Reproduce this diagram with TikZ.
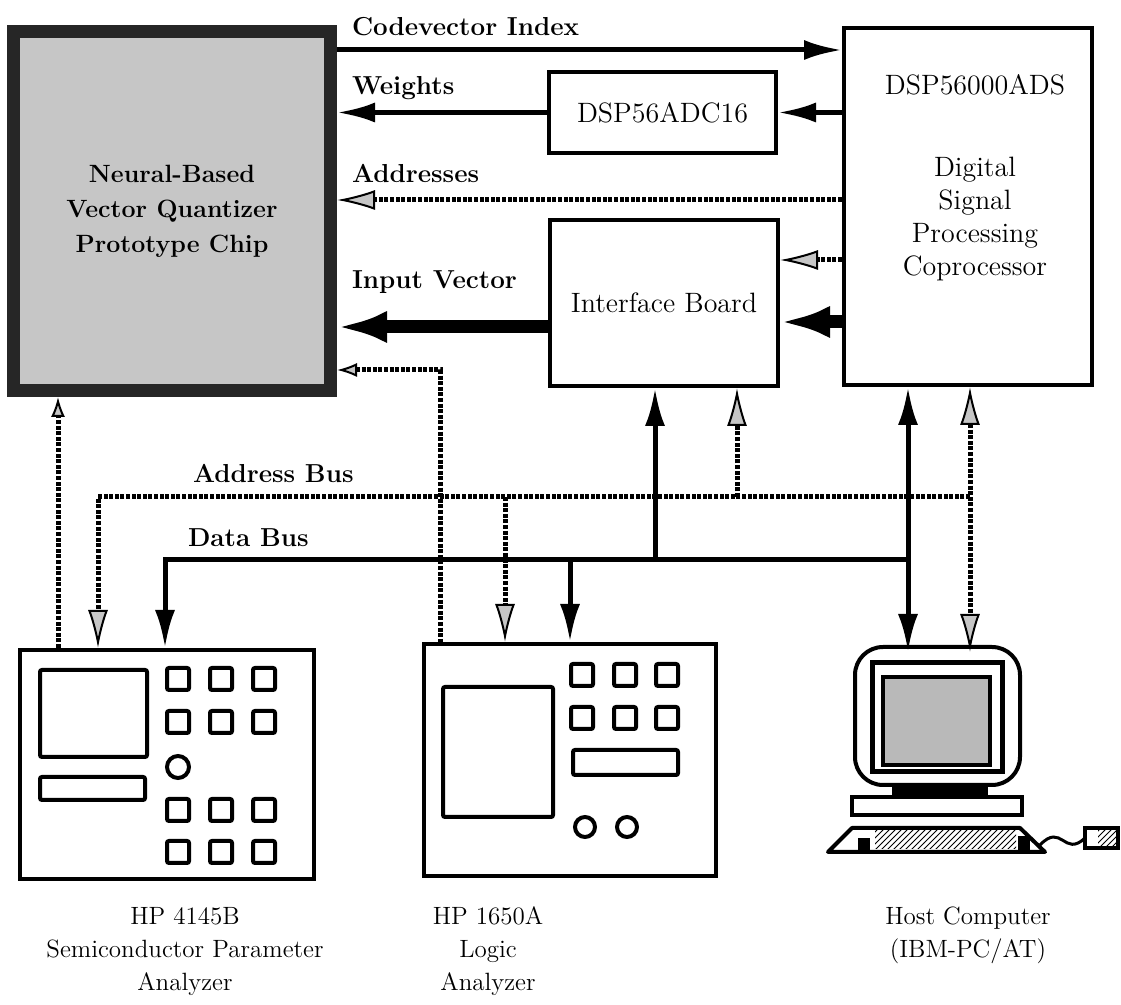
\documentclass[tikz,border=0pt]{standalone}
\usepackage{tikz}
\usetikzlibrary{arrows.meta,positioning,patterns}

\begin{document}
\begin{tikzpicture}[
    x=0.5pt, y=-0.5pt,
    box/.style={rectangle, draw, line width=2pt, inner sep=0pt, align=center,
                font=\fontsize{14}{16.5}\selectfont},
    chipbox/.style={rectangle, draw=black!85, fill=gray!45, line width=6.5pt,
                    inner sep=0pt, align=center, font=\fontsize{12.5}{17.5}\selectfont\bfseries},
    lbl/.style={anchor=west, font=\fontsize{13}{15}\selectfont\bfseries},
    txt/.style={align=center, font=\fontsize{12.5}{16.5}\selectfont},
    boxtxt/.style={align=center, font=\fontsize{14}{16.5}\selectfont},
    bus/.style={line width=2.5pt, >={Latex[length=19pt,width=10pt]}},
    fatbus/.style={line width=6.5pt, >={Latex[length=25pt,width=16pt]}},
    hatched/.style={line width=2.5pt, dash pattern=on 2pt off 0.8pt,
                    >={Latex[length=19pt,width=10pt,line width=1pt,fill=gray!45]}},
    smallhead/.style={>={Latex[length=10pt,width=7pt,line width=1pt,fill=gray!45]}},
    knob/.style={line width=2pt, rounded corners=1pt}
]
    \useasboundingbox (0,0) rectangle (1121,1005);

    % Chip
    \node[chipbox, minimum width=158.5pt, minimum height=179.5pt] (chip) at (172,211)
        {Neural-Based\\Vector Quantizer\\Prototype Chip};

    % Boards
    \node[box, minimum width=113.5pt, minimum height=40.5pt] (adc) at (662.5,112.5) {DSP56ADC16};
    \node[box, minimum width=114pt, minimum height=83pt] (iface) at (664,303) {Interface Board};
    \node[box, minimum width=124pt, minimum height=178.5pt] (dsp) at (968,206.5) {};
    \node[boxtxt] (dspname) at (975,85) {DSP56000ADS};
    \node[boxtxt] (dspdesc) at (975,219) {Digital\\Signal\\Processing\\Coprocessor};

    % Instruments
    \node[box, minimum width=147pt, minimum height=114.5pt] (spa) at (167,764.5) {};
    \node[box, minimum width=146pt, minimum height=116pt] (logic) at (570,760) {};
    \node[box, minimum width=82.5pt, minimum height=69pt, rounded corners=14pt] (host) at (937.5,716) {};

    % HP 4145B front panel
    \draw[knob] (40,670) rectangle (147,757);
    \draw[knob] (40,777) rectangle (145,800);
    \foreach \x in {178,221,264}
        \foreach \y in {679,722,810,852}
            \draw[knob] (\x-11,\y-11) rectangle (\x+11,\y+11);
    \draw[line width=2pt] (178,767) circle (5.5pt);

    % HP 1650A front panel
    \draw[knob] (443,687) rectangle (553,817);
    \draw[knob] (573,750) rectangle (678,775);
    \foreach \x in {582,625,667}
        \foreach \y in {675,718}
            \draw[knob] (\x-11,\y-11) rectangle (\x+11,\y+11);
    \foreach \x in {585,627}
        \draw[line width=2pt] (\x,827) circle (5pt);

    % Host computer
    \draw[line width=2.5pt] (872,663) rectangle (1002,772);
    \draw[line width=2pt, fill=gray!55] (883,677) rectangle (990,765);
    \fill (892,787) rectangle (988,797);
    \draw[line width=2pt] (852,797) rectangle (1022,815);
    \draw[line width=2pt, line join=round] (828,852) -- (852,828) -- (1020,828) -- (1045,852) -- cycle;
    \fill[pattern=north east lines] (875,831) rectangle (1016,849);
    \fill (858,838) rectangle (870,852);
    \fill (1018,836) rectangle (1030,852);
    \draw[line width=1.5pt] (1040,845) .. controls (1062,822) and (1064,858) .. (1085,838);
    \draw[line width=2pt] (1085,828) rectangle (1118,848);
    \fill[pattern=north east lines] (1098,831) rectangle (1116,846);

    % Chip connections
    \draw[bus, ->] (chip.east |- 0,50) -- (dsp.west |- 0,50);
    \draw[bus, ->] (adc.west) -- (chip.east |- adc.west);
    \draw[bus, ->] (dsp.west |- adc.east) -- (adc.east);
    \draw[hatched, ->] (dsp.west |- 0,200) -- (chip.east |- 0,200);
    \draw[hatched, ->] (dsp.west |- 0,260) -- (iface.east |- 0,260);
    \draw[fatbus, ->] (dsp.west |- 0,322) -- (iface.east |- 0,322);
    \draw[fatbus, ->] (iface.west |- 0,327) -- (chip.east |- 0,327);
    \draw[hatched, smallhead, <-] (chip.east |- 0,370) -| (logic.north -| 440,0);
    \draw[hatched, smallhead, ->] (spa.north -| 58,0) -- (chip.south -| 58,0);

    % Labels
    \node[lbl] (lcode) at (345,27) {Codevector Index};
    \node[lbl] (lweights) at (345,88) {Weights};
    \node[lbl] (laddr) at (345,173) {Addresses};
    \node[lbl] (linput) at (345,282) {Input Vector};

    % Buses
    \coordinate (ab) at (970,497);
    \coordinate (db) at (908,560);
    \draw[hatched, <->] (dsp.south -| ab) -- ([yshift=-3.5pt]host.north -| ab);
    \draw[bus, <->] (dsp.south -| db) -- ([yshift=-3.5pt]host.north -| db);
    \draw[hatched, ->] (ab) -| (spa.north -| 98,0);
    \draw[hatched, ->] (ab -| 505,0) -- (logic.north -| 505,0);
    \draw[hatched, ->] (ab -| 737,0) -- (iface.south -| 737,0);
    \draw[bus, ->] (db) -| (spa.north -| 165,0);
    \draw[bus, ->] (db -| 570,0) -- (logic.north -| 570,0);
    \draw[bus, ->] (db -| 655,0) -- (iface.south -| 655,0);

    \node[lbl] (labus) at (186,473) {Address Bus};
    \node[lbl] (ldbus) at (181,538) {Data Bus};

    % Instrument names
    \node[txt, anchor=north] (nspa) at (185,900) {HP 4145B\\Semiconductor Parameter\\Analyzer};
    \node[txt, anchor=north] (nlogic) at (488,900) {HP 1650A\\Logic\\Analyzer};
    \node[txt, anchor=north] (nhost) at (968,900) {Host Computer\\(IBM-PC/AT)};
\end{tikzpicture}
\end{document}
